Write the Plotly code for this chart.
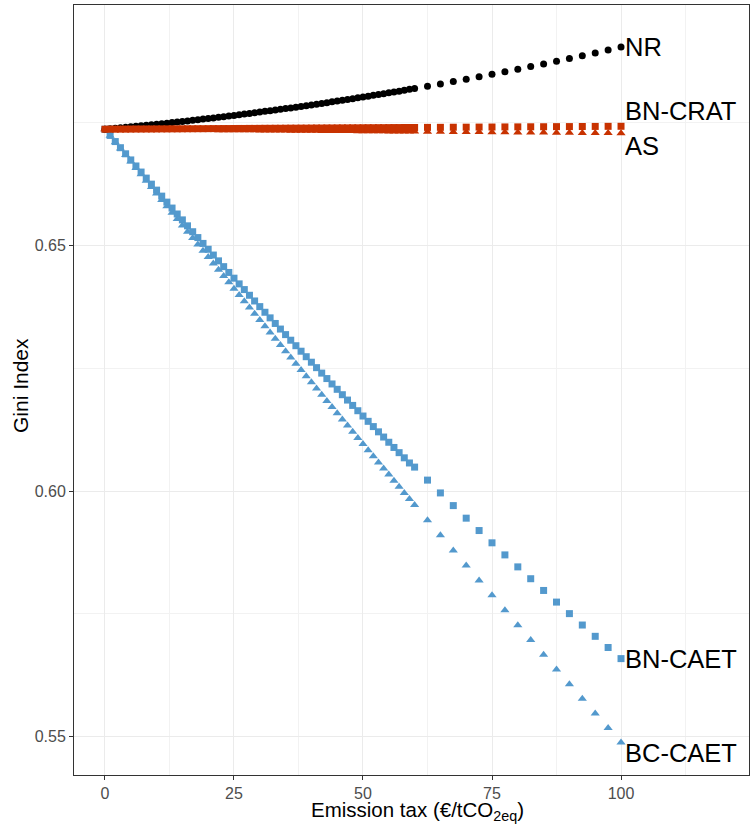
import plotly.graph_objects as go

# Emission tax values (€/tCO2eq)
tax = list(range(0, 61)) + [62.5, 65, 67.5, 70, 72.5, 75, 77.5, 80, 82.5, 85, 87.5, 90, 92.5, 95, 97.5, 100]

nr = [0.67370, 0.67380, 0.67389, 0.67399, 0.67409, 0.67419, 0.67430, 0.67440, 0.67450, 0.67461,
      0.67472, 0.67483, 0.67494, 0.67505, 0.67517, 0.67528, 0.67540, 0.67552, 0.67564, 0.67576,
      0.67589, 0.67601, 0.67614, 0.67626, 0.67639, 0.67652, 0.67666, 0.67679, 0.67692, 0.67706,
      0.67720, 0.67734, 0.67748, 0.67762, 0.67776, 0.67791, 0.67805, 0.67820, 0.67835, 0.67850,
      0.67865, 0.67881, 0.67896, 0.67912, 0.67928, 0.67944, 0.67960, 0.67976, 0.67992, 0.68009,
      0.68026, 0.68043, 0.68060, 0.68077, 0.68094, 0.68111, 0.68129, 0.68146, 0.68164, 0.68182,
      0.68200,
      0.68246, 0.68293, 0.68340, 0.68389, 0.68438, 0.68489, 0.68540, 0.68592, 0.68646, 0.68700,
      0.68755, 0.68811, 0.68867, 0.68925, 0.68984, 0.69043]

bn_crat = [0.67370, 0.67371, 0.67371, 0.67372, 0.67372, 0.67373, 0.67374, 0.67374, 0.67375, 0.67375,
           0.67376, 0.67377, 0.67377, 0.67378, 0.67378, 0.67379, 0.67380, 0.67380, 0.67381, 0.67381,
           0.67382, 0.67383, 0.67383, 0.67384, 0.67384, 0.67385, 0.67386, 0.67386, 0.67387, 0.67387,
           0.67388, 0.67389, 0.67389, 0.67390, 0.67390, 0.67391, 0.67392, 0.67392, 0.67393, 0.67393,
           0.67394, 0.67395, 0.67395, 0.67396, 0.67396, 0.67397, 0.67398, 0.67398, 0.67399, 0.67399,
           0.67400, 0.67401, 0.67401, 0.67402, 0.67402, 0.67403, 0.67404, 0.67404, 0.67405, 0.67405,
           0.67406,
           0.67408, 0.67409, 0.67411, 0.67412, 0.67414, 0.67415, 0.67417, 0.67418, 0.67420, 0.67421,
           0.67423, 0.67424, 0.67426, 0.67427, 0.67429, 0.67430]

as_ = [0.67370, 0.67369, 0.67368, 0.67368, 0.67367, 0.67366, 0.67365, 0.67364, 0.67364, 0.67363,
       0.67362, 0.67361, 0.67360, 0.67360, 0.67359, 0.67358, 0.67357, 0.67356, 0.67356, 0.67355,
       0.67354, 0.67353, 0.67352, 0.67352, 0.67351, 0.67350, 0.67349, 0.67348, 0.67348, 0.67347,
       0.67346, 0.67345, 0.67344, 0.67344, 0.67343, 0.67342, 0.67341, 0.67340, 0.67340, 0.67339,
       0.67338, 0.67337, 0.67336, 0.67336, 0.67335, 0.67334, 0.67333, 0.67332, 0.67332, 0.67331,
       0.67330, 0.67329, 0.67328, 0.67328, 0.67327, 0.67326, 0.67325, 0.67324, 0.67324, 0.67323,
       0.67322,
       0.67320, 0.67318, 0.67316, 0.67314, 0.67312, 0.67310, 0.67308, 0.67306, 0.67304, 0.67302,
       0.67300, 0.67298, 0.67296, 0.67294, 0.67292, 0.67290]

bn_caet = [0.67370, 0.67244, 0.67119, 0.66994, 0.66870, 0.66745, 0.66622, 0.66498, 0.66375, 0.66252,
           0.66130, 0.66008, 0.65886, 0.65765, 0.65644, 0.65524, 0.65403, 0.65283, 0.65164, 0.65045,
           0.64926, 0.64808, 0.64690, 0.64572, 0.64454, 0.64337, 0.64221, 0.64105, 0.63989, 0.63873,
           0.63758, 0.63643, 0.63529, 0.63415, 0.63301, 0.63188, 0.63074, 0.62962, 0.62850, 0.62738,
           0.62626, 0.62515, 0.62404, 0.62293, 0.62183, 0.62074, 0.61964, 0.61855, 0.61746, 0.61638,
           0.61530, 0.61422, 0.61315, 0.61208, 0.61102, 0.60996, 0.60890, 0.60784, 0.60679, 0.60574,
           0.60490,
           0.60225, 0.59964, 0.59706, 0.59450, 0.59198, 0.58948, 0.58702, 0.58458, 0.58217, 0.57978,
           0.57741, 0.57506, 0.57274, 0.57044, 0.56816, 0.56590]

bc_caet = [0.67370, 0.67239, 0.67107, 0.66976, 0.66845, 0.66714, 0.66583, 0.66453, 0.66322, 0.66192,
           0.66062, 0.65931, 0.65801, 0.65672, 0.65542, 0.65412, 0.65283, 0.65154, 0.65024, 0.64895,
           0.64766, 0.64638, 0.64509, 0.64380, 0.64252, 0.64124, 0.63996, 0.63868, 0.63740, 0.63612,
           0.63484, 0.63357, 0.63230, 0.63102, 0.62975, 0.62848, 0.62722, 0.62595, 0.62468, 0.62342,
           0.62216, 0.62089, 0.61963, 0.61838, 0.61712, 0.61586, 0.61461, 0.61335, 0.61210, 0.61085,
           0.60960, 0.60835, 0.60710, 0.60586, 0.60461, 0.60337, 0.60213, 0.60089, 0.59965, 0.59841,
           0.59718,
           0.59409, 0.59101, 0.58794, 0.58488, 0.58183, 0.57879, 0.57575, 0.57272, 0.56970, 0.56669,
           0.56369, 0.56070, 0.55771, 0.55473, 0.55176, 0.54880]

x_ticks = [0, 25, 50, 75, 100]
y_ticks = [0.55, 0.60, 0.65]
y_tick_labels = ["0.55", "0.60", "0.65"]
x_title = "Emission tax (€/tCO<sub>2eq</sub>)"
y_title = "Gini Index"

BLUE = "#5399CD"
RED = "#C83200"
BLACK = "#000000"
FONT = "Liberation Sans, Arial, sans-serif"

series = [
    ("BC-CAET", bc_caet, "triangle-up", BLUE, 8, -10),
    ("BN-CAET", bn_caet, "square", BLUE, 7, 0),
    ("NR", nr, "circle", BLACK, 7, 0),
    ("AS", as_, "triangle-up", RED, 8, -13),
    ("BN-CRAT", bn_crat, "square", RED, 7, 15),
]

fig = go.Figure()
for name, vals, sym, col, sz, _ in series:
    fig.add_trace(go.Scatter(
        x=tax, y=vals, mode="markers", name=name,
        marker=dict(symbol=sym, color=col, size=sz, line=dict(width=0)),
        showlegend=False, hoverinfo="skip",
    ))

for name, vals, sym, col, sz, ysh in series:
    fig.add_annotation(
        x=tax[-1], y=vals[-1], text=name, showarrow=False,
        xanchor="left", yanchor="middle", xshift=2, yshift=ysh,
        font=dict(family=FONT, size=25.5, color="#000000"),
    )

# axis titles
fig.add_annotation(
    xref="paper", yref="paper", x=0.5, y=0, xshift=6, yshift=-36,
    xanchor="center", yanchor="middle", showarrow=False, text=x_title,
    font=dict(family=FONT, size=20.5, color="#000000"),
)
fig.add_annotation(
    xref="paper", yref="paper", x=0, y=0.5, xshift=-54, yshift=4,
    xanchor="center", yanchor="middle", showarrow=False, text=y_title, textangle=-90,
    font=dict(family=FONT, size=21, color="#000000"),
)

axis_common = dict(
    showline=True, linecolor="#333333", linewidth=1, mirror=True,
    ticks="outside", ticklen=4, tickcolor="#333333", tickwidth=1,
    tickfont=dict(family=FONT, size=16, color="#4D4D4D"),
    showgrid=True, gridcolor="#EBEBEB", gridwidth=1.1, zeroline=False,
    automargin=False,
)

fig.update_layout(
    width=750, height=825,
    margin=dict(l=74, r=1, t=5, b=50),
    paper_bgcolor="white", plot_bgcolor="white",
    font=dict(family=FONT),
    xaxis=dict(
        range=[-6.0, 124.8], tickmode="array", tickvals=x_ticks,
        ticktext=[str(v) for v in x_ticks],
        minor=dict(dtick=12.5, tick0=12.5, showgrid=True, gridcolor="#F2F2F2", gridwidth=0.6, ticks=""),
        **axis_common,
    ),
    yaxis=dict(
        range=[0.5422, 0.6990], tickmode="array", tickvals=y_ticks, ticktext=y_tick_labels,
        minor=dict(dtick=0.025, tick0=0.525, showgrid=True, gridcolor="#F2F2F2", gridwidth=0.6, ticks=""),
        **axis_common,
    ),
)

fig.write_html(
    "out.html",
    config={"displayModeBar": False},
    post_script="document.body.style.margin='0px';document.body.style.overflow='hidden';",
)
